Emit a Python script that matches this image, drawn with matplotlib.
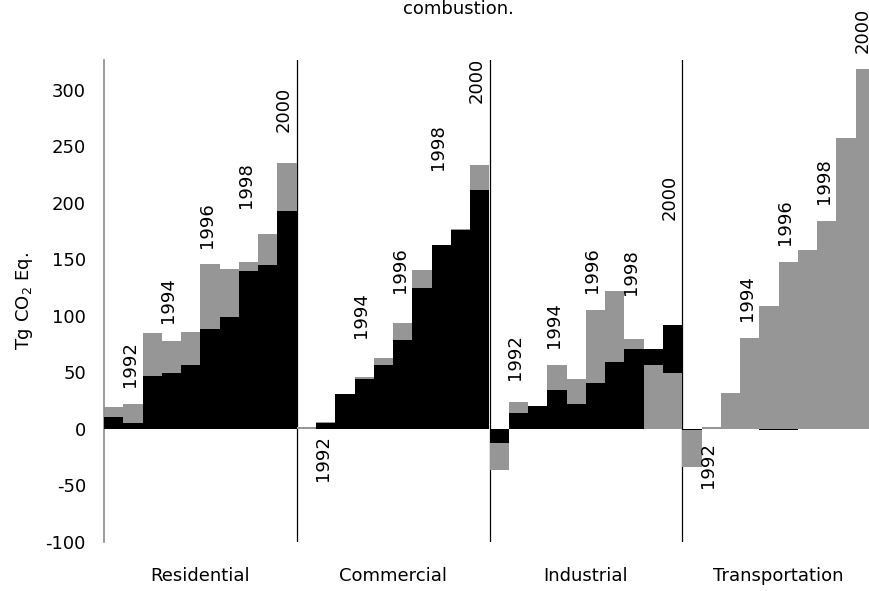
import numpy as np
import matplotlib
matplotlib.use("Agg")
import matplotlib.pyplot as plt
from matplotlib.transforms import offset_copy

plt.rcParams["font.family"] = ["DejaVu Sans"]
plt.rcParams["mathtext.default"] = "regular"
plt.rcParams["axes.unicode_minus"] = False

# data (Tg CO2 Eq.), years 1991-2000 per sector
years = [1991, 1992, 1993, 1994, 1995, 1996, 1997, 1998, 1999, 2000]
sectors = ["Residential", "Commercial", "Industrial", "Transportation"]

res_gray = [19.6, 22.0, 84.6, 77.8, 85.5, 146.0, 141.3, 147.7, 172.5, 235.2]
res_black = [10.2, 4.9, 46.8, 49.7, 56.5, 88.1, 99.3, 139.5, 144.8, 192.9]

com_gray = [2.0, 5.8, 30.8, 45.6, 62.4, 94.0, 140.7, 162.8, 177.2, 233.7]
com_black = [0.0, 4.9, 30.8, 43.8, 56.5, 78.7, 125.0, 162.8, 176.1, 211.5]

ind_gray = [-36.5, 23.5, 20.2, 56.5, 43.8, 105.2, 122.1, 79.5, 56.5, 49.7]
ind_black = [-12.9, 13.7, 20.2, 34.4, 22.0, 40.3, 58.9, 70.4, 70.4, 91.9]

tra_gray = [-33.6, 1.5, 32.0, 80.7, 108.8, 147.7, 158.4, 184.3, 257.8, 318.7]
tra_black = [-1.5, 0.0, 0.0, 0.0, -1.5, -1.5, 0.0, 0.0, 0.0, 0.0]

gray_series = [res_gray, com_gray, ind_gray, tra_gray]
black_series = [res_black, com_black, ind_black, tra_black]

# year labels (every other year), anchored at these heights
label_years = [1992, 1994, 1996, 1998, 2000]
label_at = [
    [37.3, 93.4, 159.9, 195.3, 263.2],
    [-5.5, 80.2, 120.0, 229.2, 288.3],
    [43.2, 71.3, 120.0, 118.5, 184.9],
    [-11.4, 95.7, 162.8, 199.1, 333.0],
]

GRAY = "#969696"
n = len(years)

fig = plt.figure(figsize=(8.7, 5.91), dpi=100)
ax = fig.add_axes((104 / 870, 49.3 / 591, 771 / 870, 481.7 / 591))
label_tr = offset_copy(ax.transData, fig=fig, x=-2.2, y=0, units="points")

for s, name in enumerate(sectors):
    g = np.array(gray_series[s])
    b = np.array(black_series[s])
    x = s * n + np.arange(n) + 0.5
    # the bar with the larger magnitude sits behind the smaller one
    g_back = np.abs(g) >= np.abs(b)
    back = np.where(g_back, g, b)
    front = np.where(g_back, b, g)
    back_col = [GRAY if k else "black" for k in g_back]
    front_col = ["black" if k else GRAY for k in g_back]
    ax.bar(x, back, width=1.0, color=back_col, linewidth=0, zorder=2)
    ax.bar(x, front, width=1.0, color=front_col, linewidth=0, zorder=3)

    for yr, pos in zip(label_years, label_at[s]):
        xi = s * n + years.index(yr) + 0.5
        ax.text(xi, pos, str(yr), rotation=90, ha="center",
                va="bottom" if pos >= 0 else "top", fontsize=13, zorder=4,
                transform=label_tr, clip_on=False)

for d in range(1, len(sectors)):
    ax.axvline(d * n, color="black", linewidth=0.9, zorder=1)

ax.set_xlim(0, n * len(sectors))
ax.set_ylim(-100, 326.6)
ax.set_yticks(np.arange(-100, 301, 50))
ax.tick_params(axis="y", length=0, pad=13, labelsize=13)
ax.set_xticks([s * n + n / 2 for s in range(len(sectors))], sectors)
ax.tick_params(axis="x", length=0, pad=18, labelsize=13)

for side in ["top", "right", "bottom"]:
    ax.spines[side].set_visible(False)
ax.spines["left"].set_color("#8c8c8c")
ax.spines["left"].set_linewidth(1.2)

ax.set_ylabel("Tg CO$_2$ Eq.", fontsize=13)
ax.yaxis.set_label_coords(-0.09, 0.5)

fig.text(458 / 870, 1 - 14 / 591, "combustion.", ha="center", va="baseline", fontsize=13)

fig.savefig("out.png", dpi=100)
